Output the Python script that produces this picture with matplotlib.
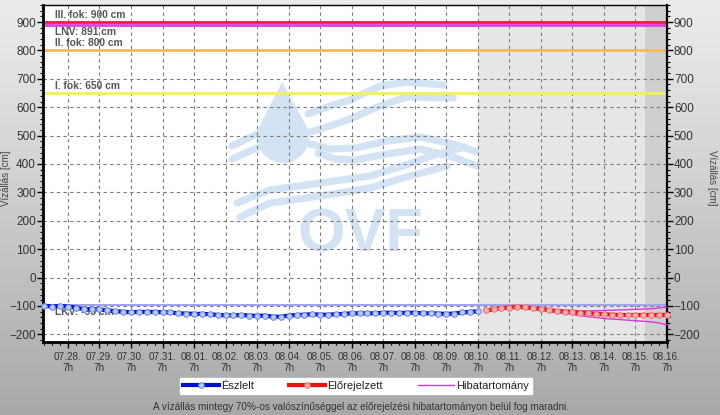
import matplotlib
matplotlib.use("Agg")
import matplotlib.pyplot as plt
import matplotlib.dates as mdates
import matplotlib.transforms as mtransforms
from matplotlib.lines import Line2D
from matplotlib.patches import Polygon
from matplotlib.ticker import MultipleLocator
import numpy as np
import pandas as pd

plt.rcParams['font.family'] = ['Liberation Sans', 'DejaVu Sans']

# ---------------- data ----------------
obs_start = "2025-07-27 13:00"
obs_values = [-99, -102, -100, -102, -106, -111, -111, -112, -116, -118,
              -121, -122, -121, -121, -121, -122, -123, -126, -127, -128,
              -128, -129, -132, -133, -133, -132, -134, -135,
              -134, -138, -138, -134, -132, -131, -129, -131, -131, -129,
              -128, -126, -126, -126, -126, -124, -124, -125, -124, -124,
              -126, -126, -127, -128, -127, -123, -121, -119]

fc_start = "2025-08-10 13:00"
fc_values = [-116, -112, -108, -106, -103, -105, -108, -111, -114, -118,
             -120, -122, -124, -126, -128, -129, -131, -132, -132, -132,
             -132, -132, -132, -132]
band_upper = [-116, -112, -108, -106, -103, -105, -108, -110, -112, -114,
              -115, -116, -117, -117, -117, -116, -115, -114, -113, -112,
              -111, -110, -107, -104]
band_lower = [-116, -112, -108, -106, -104, -107, -111, -114, -118, -122,
              -126, -130, -134, -138, -141, -144, -146, -148, -150, -152,
              -154, -156, -160, -167]

threshold_values = [900, 891, 800, 650, -95]
threshold_labels = ["III. fok: 900 cm", "LNV: 891 cm", "II. fok: 800 cm",
                    "I. fok: 650 cm", "LKV: -95 cm"]
threshold_colors = ["#ee1c3c", "#e040e0", "#f7b85a", "#f2f25a", "#9fa3f0"]
label_above = [True, False, True, True, False]

tick_start, tick_end = "2025-07-28 07:00", "2025-08-16 07:00"
forecast_shade_start = "2025-08-10 07:00"
late_shade_start = "2025-08-15 14:00"
x_min, x_max = "2025-07-27 12:00", "2025-08-16 07:00"
y_min, y_max = -227, 960

legend_labels = ["Észlelt", "Előrejelzett", "Hibatartomány"]
y_label = "Vízállás [cm]"
footnote = ("A vízállás mintegy 70%-os valószínűséggel az előrejelzési "
            "hibatartományon belül fog maradni.")

# --------------- figure ---------------
W, H = 720, 415
obs_t = pd.date_range(obs_start, periods=len(obs_values), freq="6h")
fc_t = pd.date_range(fc_start, periods=len(fc_values), freq="6h")
ticks = pd.date_range(tick_start, tick_end, freq="D")
tick_labels = [d.strftime("%m.%d.") + "\n7h" for d in ticks]

fig = plt.figure(figsize=(W / 100, H / 100), dpi=100)

bg = fig.add_axes([0, 0, 1, 1], zorder=-10)
grad = np.linspace(0, 1, 256).reshape(-1, 1)
top_c = np.array([0.925, 0.925, 0.925])
bot_c = np.array([0.66, 0.66, 0.66])
img = top_c + (bot_c - top_c) * grad[..., None] ** 1.1
bg.imshow(img, aspect="auto", extent=[0, 1, 0, 1], origin="upper")
bg.set_axis_off()

ax = fig.add_axes([43 / W, 1 - 342 / H, 624 / W, 337 / H])
ax.set_xlim(pd.Timestamp(x_min), pd.Timestamp(x_max))
ax.set_ylim(y_min, y_max)

ax.axvspan(pd.Timestamp(forecast_shade_start), pd.Timestamp(x_max),
           color="#e6e6e6", zorder=0, lw=0)
ax.axvspan(pd.Timestamp(late_shade_start), pd.Timestamp(x_max),
           color="#cfcfcf", zorder=0, lw=0)

# ---- OVF watermark (decoration, figure-pixel layout) ----
wm_col = "#d4e3f3"
def px(pts):
    a = np.asarray(pts, dtype=float)
    return a[:, 0] / W, 1 - a[:, 1] / H

wave_strokes = [
    [(308, 114), (330, 106), (350, 100), (380, 86), (407, 82), (443, 85)],
    [(310, 132), (330, 126), (350, 119), (380, 106), (407, 97), (453, 98)],
    [(232, 146), (257, 134)],
    [(232, 159), (257, 148)],
    [(306, 143), (330, 149), (355, 148), (387, 141), (420, 137), (453, 144), (477, 152)],
    [(318, 153), (335, 159), (355, 160), (387, 154), (420, 149), (453, 157), (477, 166)],
    [(237, 203), (270, 190), (320, 183), (370, 176), (403, 166), (437, 154), (465, 147)],
    [(240, 217), (270, 203), (320, 196), (370, 188), (403, 178), (447, 166)],
]
for s in wave_strokes:
    xs, ys = px(s)
    fig.add_artist(Line2D(xs, ys, transform=fig.transFigure, color=wm_col,
                          lw=5.2, solid_capstyle="round",
                          solid_joinstyle="round", zorder=0.6))

# drop
cx, cy, r = 283, 137, 26
tipx, tipy = 282, 82
th = np.degrees(np.arccos(r / (cy - tipy)))
phi = np.radians(np.linspace(th, 360 - th, 60))
drop_pts = [(tipx, tipy)] + [(cx + r * np.sin(p), cy - r * np.cos(p)) for p in phi]
dx, dy = px(drop_pts)
fig.add_artist(Polygon(np.column_stack([dx, dy]), closed=True,
                       transform=fig.transFigure, facecolor=wm_col,
                       edgecolor="none", zorder=0.6))
fig.text(360 / W, 1 - 236 / H, "OVF", fontsize=44, fontweight="bold",
         color=wm_col, ha="center", va="center", zorder=0.6)

ax.set_zorder(1)
ax.patch.set_alpha(0)
# white plot background below the watermark
bgp = fig.add_axes(ax.get_position(), zorder=0.5)
bgp.set_facecolor("white")
bgp.set_xticks([]); bgp.set_yticks([])
for s in bgp.spines.values():
    s.set_visible(False)

ax.set_xticks(ticks)
ax.set_xticklabels(tick_labels)
ax.xaxis.set_minor_locator(mdates.HourLocator(byhour=[1, 13, 19]))
ax.yaxis.set_major_locator(MultipleLocator(100))
ax.yaxis.set_minor_locator(MultipleLocator(20))
ax.grid(True, which="major", color="#7a7a7a", linestyle=(0, (3, 3)),
        linewidth=0.8, zorder=1)
ax.set_axisbelow(True)

ax.tick_params(axis="both", which="major", direction="out", length=4,
               width=1, color="black", labelcolor="#333333")
ax.tick_params(axis="both", which="minor", direction="out", length=2,
               width=0.8, color="black")
ax.tick_params(axis="y", labelsize=8.5, right=True, labelright=True,
               which="both", pad=1)
ax.tick_params(axis="x", labelsize=7.2, which="major", pad=3)

for side, lw in [("left", 2), ("bottom", 2), ("right", 1.6), ("top", 1)]:
    ax.spines[side].set_linewidth(lw)
    ax.spines[side].set_color("black")

trans = mtransforms.blended_transform_factory(ax.transAxes, ax.transData)
for val, lab, col, above in zip(threshold_values, threshold_labels,
                                threshold_colors, label_above):
    ax.axhline(val, color=col, linewidth=2 if val != -95 else 1.5, zorder=2)
    ax.annotate(lab, xy=(0.019, val), xycoords=trans,
                xytext=(0, 1.5 if above else -1.5), textcoords="offset points",
                va="bottom" if above else "top", ha="left",
                fontsize=7.4, fontweight="bold", color="#555555", zorder=2)

ax.plot(fc_t, band_upper, color="#dd33dd", lw=1.0, zorder=3)
ax.plot(fc_t, band_lower, color="#dd33dd", lw=1.0, zorder=3)
ax.plot(obs_t, obs_values, color="#0010d0", lw=3.0, marker="o", ms=4.0,
        mfc="#b8cdf2", mec="#6b80e8", mew=0.7, zorder=4, clip_on=False)
ax.plot(fc_t, fc_values, color="#ee1010", lw=3.0, marker="o", ms=4.0,
        mfc="#f8b0b0", mec="#f07070", mew=0.7, zorder=4, clip_on=False)

fig.text(712 / W, 1 - 178 / H, y_label, rotation=270, fontsize=7,
         color="#444444", ha="center", va="center")
fig.text(6 / W, 1 - 178 / H, y_label, rotation=90, fontsize=7,
         color="#444444", ha="center", va="center")

handles = [
    Line2D([], [], color="#0010d0", lw=3.0, marker="o", ms=4.0,
           mfc="#b8cdf2", mec="#6b80e8", mew=0.7),
    Line2D([], [], color="#ee1010", lw=3.0, marker="o", ms=4.0,
           mfc="#f8b0b0", mec="#f07070", mew=0.7),
    Line2D([], [], color="#dd33dd", lw=1.0),
]
leg = fig.legend(handles, legend_labels, loc="center",
                 bbox_to_anchor=(356 / W, 1 - 386 / H), ncol=3,
                 fontsize=8, frameon=True, fancybox=False, framealpha=1,
                 edgecolor="white", facecolor="white", borderpad=0.25,
                 handlelength=3.2, handletextpad=0.2, columnspacing=3.2,
                 markerscale=1.0, borderaxespad=0)
for t in leg.get_texts():
    t.set_color("#222222")

fig.text(361 / W, 1 - 407 / H, footnote, fontsize=7.2, color="#333333",
         ha="center", va="center")

fig.savefig("out.png", dpi=100)
